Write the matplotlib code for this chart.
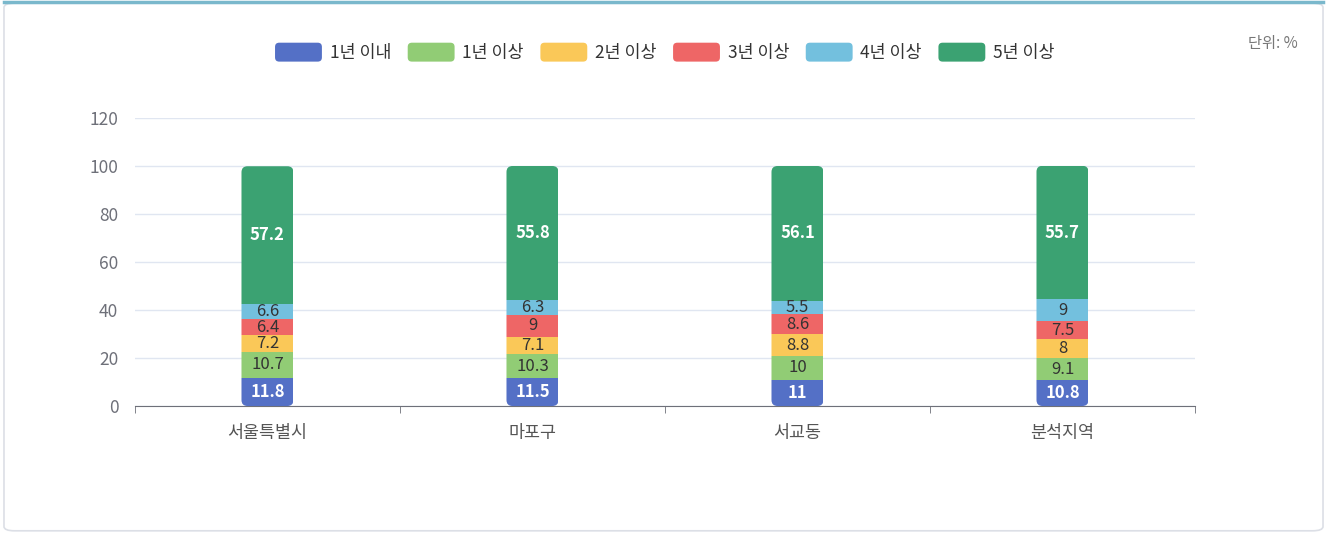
import matplotlib.pyplot as plt
import numpy as np
from matplotlib.patches import FancyBboxPatch, Rectangle
from matplotlib.legend_handler import HandlerPatch
from matplotlib.transforms import Bbox, IdentityTransform

plt.rcParams['font.family'] = ['Noto Sans CJK KR', 'DejaVu Sans']

regions = ['서울특별시', '마포구', '서교동', '분석지역']
series = ['1년 이내', '1년 이상', '2년 이상', '3년 이상', '4년 이상', '5년 이상']
colors = ['#5470c6', '#91cc75', '#fac858', '#ee6666', '#73c0de', '#3ba272']
label_colors = ['white', '#333333', '#333333', '#333333', '#333333', 'white']

under_1y = [11.8, 11.5, 11, 10.8]
over_1y = [10.7, 10.3, 10, 9.1]
over_2y = [7.2, 7.1, 8.8, 8]
over_3y = [6.4, 9, 8.6, 7.5]
over_4y = [6.6, 6.3, 5.5, 9]
over_5y = [57.2, 55.8, 56.1, 55.7]
values = [under_1y, over_1y, over_2y, over_3y, over_4y, over_5y]


class RoundHandler(HandlerPatch):
    def create_artists(self, legend, orig, xdescent, ydescent, width, height, fontsize, trans):
        p = FancyBboxPatch((-xdescent, -ydescent), width, height,
                           boxstyle='round,pad=0,rounding_size=3',
                           fc=orig.get_facecolor(), ec='none', transform=trans)
        return [p]


fig = plt.figure(figsize=(13.27, 5.34), dpi=100)
ax = fig.add_axes([0.1017, 0.2397, 0.7988, 0.5393])

x = np.arange(len(regions))
bottom = np.zeros(len(regions))
containers = []
for name, vals, col, lc in zip(series, values, colors, label_colors):
    vals = np.array(vals, dtype=float)
    bc = ax.bar(x, vals, 0.196, bottom=bottom, color=col, label=name, zorder=3)
    containers.append(bc)
    for xi, b, v in zip(x, bottom, vals):
        ax.text(xi, b + v / 2, f'{v:g}', ha='center', va='center', fontsize=12,
                color=lc, fontweight='bold' if lc == 'white' else 'normal', zorder=4)
    bottom += vals

ax.set_xlim(-0.5, len(regions) - 0.5)
ax.set_ylim(0, 120)
ax.set_yticks(np.arange(0, 121, 20))
ax.yaxis.grid(True, color='#e0e6f1', lw=1, zorder=0)
ax.set_xticks(x)
ax.set_xticklabels(regions)
ax.set_xticks(np.arange(-0.5, len(regions)), minor=True)
ax.tick_params(axis='x', which='major', length=0, pad=13, labelsize=12.5, labelcolor='#555555')
ax.tick_params(axis='x', which='minor', length=5, color='#6e7079')
ax.tick_params(axis='y', length=0, pad=12, labelsize=12.5, labelcolor='#6e7079')
for s in ['top', 'right', 'left']:
    ax.spines[s].set_visible(False)
ax.spines['bottom'].set_color('#6e7079')

handles = [Rectangle((0, 0), 1, 1, fc=c) for c in colors]
fig.legend(handles, series, loc='center', bbox_to_anchor=(0.501, 0.902), ncol=6, frameon=False,
           fontsize=12.5, handlelength=2.7, handleheight=1.3, handletextpad=0.45,
           columnspacing=0.95, labelcolor='#333333',
           handler_map={Rectangle: RoundHandler()})
fig.text(0.978, 0.918, '단위: %', ha='right', va='center', fontsize=11, color='#777777')

# round the ends of every stacked column
fig.canvas.draw()
for i in range(len(regions)):
    boxes = [bc.patches[i].get_window_extent() for bc in containers]
    bb = Bbox.union(boxes)
    clip = FancyBboxPatch((bb.x0, bb.y0), bb.width, bb.height,
                          boxstyle='round,pad=0,rounding_size=6', transform=IdentityTransform())
    for bc in containers:
        bc.patches[i].set_clip_path(clip)

card = FancyBboxPatch((0.003, 0.006), 0.994, 0.988, boxstyle='round,pad=0,rounding_size=0.008',
                      transform=fig.transFigure, fill=False, ec='#dcdfe6', lw=1.2)
fig.patches.append(card)
fig.add_artist(plt.Line2D([0.003, 0.997], [0.997, 0.997], color='#7ab8cc', lw=2.5))

fig.savefig('out.png', dpi=100, facecolor='white')
